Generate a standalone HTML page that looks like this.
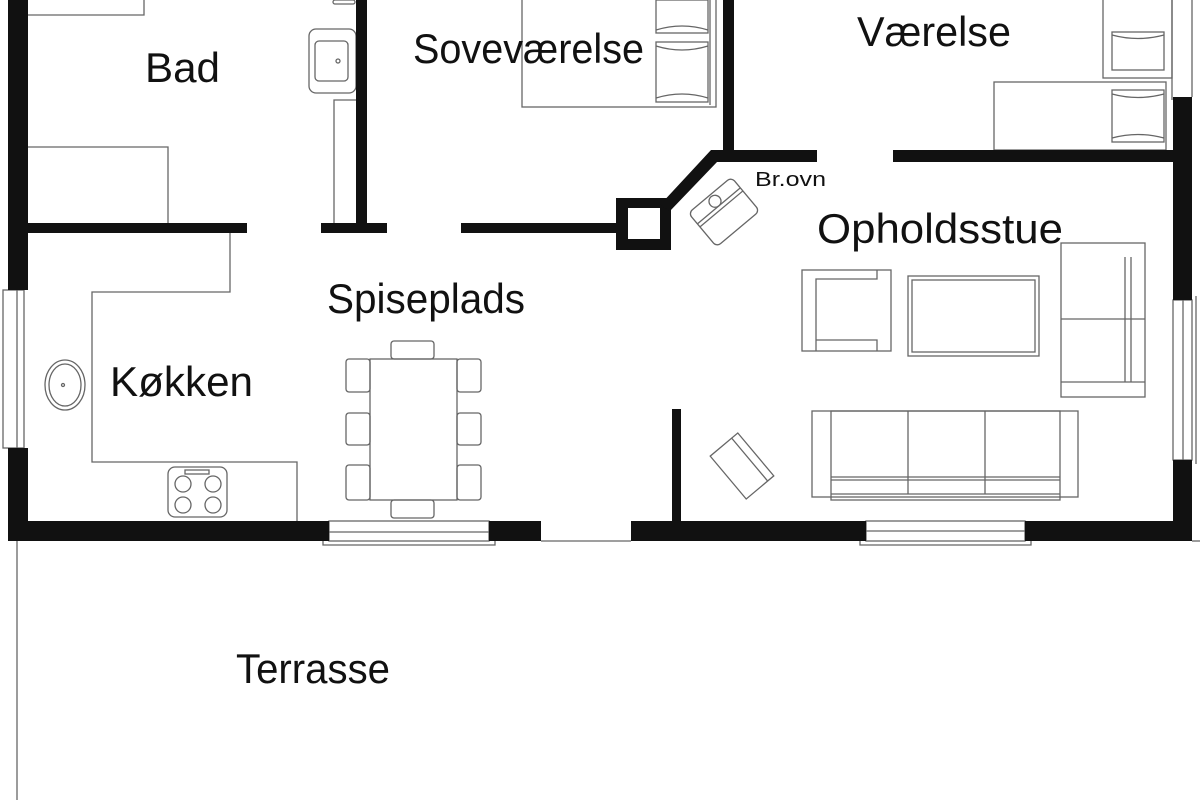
<!DOCTYPE html>
<html><head><meta charset="utf-8"><style>html,body{margin:0;padding:0;background:#fff}svg{display:block}</style></head>
<body>
<svg width="1200" height="800" viewBox="0 0 1200 800" xmlns="http://www.w3.org/2000/svg" font-family="Liberation Sans, sans-serif">
<rect width="1200" height="800" fill="#fff"/>
<g fill="none" stroke="#666" stroke-width="1.3">
<polyline points="28,15 144,15 144,0"/>
<polyline points="28,147 168,147 168,223"/>
<rect x="309" y="29" width="47" height="64" rx="7"/>
<rect x="315" y="41" width="33" height="40" rx="4"/>
<circle cx="338" cy="61" r="2"/>
<polyline points="356,100 334,100 334,223"/>
<rect x="333" y="0" width="22" height="4" rx="2"/>
<rect x="522" y="-2" width="194" height="109"/>
<line x1="710" y1="0" x2="710" y2="105"/>
<rect x="656" y="0" width="52" height="33"/>
<rect x="656" y="42" width="52" height="60"/>
<path d="M656,30 Q682,22 708,30 M656,46 Q682,54 708,46 M656,98 Q682,90 708,98"/>
<rect x="994" y="82" width="172" height="68"/>
<rect x="1103" y="-2" width="69" height="80"/>
<rect x="1112" y="32" width="52" height="38"/>
<rect x="1112" y="90" width="52" height="52"/>
<path d="M1112,35 Q1138,42 1164,35 M1112,94 Q1138,101 1164,94 M1112,138 Q1138,131 1164,138"/>
<line x1="1172" y1="0" x2="1172" y2="100"/>
<line x1="1192" y1="0" x2="1192" y2="97"/>
<polyline points="230,233 230,292 92,292 92,462 297,462 297,521"/>
<ellipse cx="65" cy="385" rx="20" ry="25"/>
<ellipse cx="65" cy="385" rx="16" ry="21"/>
<circle cx="63" cy="385" r="1.5"/>
<rect x="168" y="467" width="59" height="50" rx="7"/>
<circle cx="183" cy="484" r="8"/><circle cx="213" cy="484" r="8"/>
<circle cx="183" cy="505" r="8"/><circle cx="213" cy="505" r="8"/>
<rect x="185" y="470" width="24" height="4"/>
<rect x="370" y="359" width="87" height="141"/>
<rect x="346" y="359" width="24" height="33" rx="3"/>
<rect x="346" y="413" width="24" height="32" rx="3"/>
<rect x="346" y="465" width="24" height="35" rx="3"/>
<rect x="457" y="359" width="24" height="33" rx="3"/>
<rect x="457" y="413" width="24" height="32" rx="3"/>
<rect x="457" y="465" width="24" height="35" rx="3"/>
<rect x="391" y="341" width="43" height="18" rx="3"/>
<rect x="391" y="500" width="43" height="18" rx="3"/>
<g transform="translate(724,212) rotate(-40)">
<rect x="-28" y="-22" width="56" height="44" rx="5"/>
<line x1="-28" y1="-8" x2="28" y2="-8"/><line x1="-28" y1="-4" x2="28" y2="-4"/>
<circle cx="0" cy="-14" r="6"/>
</g>
<rect x="802" y="270" width="89" height="81"/>
<polyline points="877,270 877,279 816,279 816,351"/>
<polyline points="877,351 877,340 816,340"/>
<rect x="908" y="276" width="131" height="80"/>
<rect x="912" y="280" width="123" height="72"/>
<rect x="1061" y="243" width="84" height="154"/>
<line x1="1061" y1="319" x2="1145" y2="319"/>
<line x1="1061" y1="382" x2="1145" y2="382"/>
<line x1="1125" y1="257" x2="1125" y2="382"/>
<line x1="1131" y1="257" x2="1131" y2="382"/>
<rect x="812" y="411" width="266" height="86"/>
<rect x="831" y="411" width="229" height="89"/>
<line x1="908" y1="411" x2="908" y2="494"/>
<line x1="985" y1="411" x2="985" y2="494"/>
<line x1="831" y1="477" x2="1060" y2="477"/>
<line x1="831" y1="480" x2="1060" y2="480"/>
<line x1="831" y1="494" x2="1060" y2="494"/>
<g transform="translate(742,466) rotate(50)">
<rect x="-28" y="-18" width="56" height="36"/>
<line x1="-28" y1="-10" x2="28" y2="-10"/>
</g>
<rect x="3" y="290" width="21" height="158"/>
<line x1="17" y1="290" x2="17" y2="448"/>
<rect x="329" y="521" width="160" height="20"/>
<line x1="329" y1="532" x2="489" y2="532"/>
<polyline points="323,541 323,545 495,545 495,541"/>
<rect x="866" y="521" width="159" height="20"/>
<line x1="866" y1="531" x2="1025" y2="531"/>
<polyline points="860,541 860,545 1031,545 1031,541"/>
<rect x="1173" y="300" width="19" height="160"/>
<line x1="1183" y1="300" x2="1183" y2="460"/>
<line x1="1196" y1="296" x2="1196" y2="464"/>
<line x1="17" y1="541" x2="17" y2="800"/>
<line x1="541" y1="541" x2="631" y2="541"/>
<line x1="1192" y1="541" x2="1200" y2="541"/>
</g>
<g fill="#111">
<rect x="8" y="0" width="20" height="290"/>
<rect x="8" y="448" width="20" height="93"/>
<rect x="8" y="521" width="321" height="20"/>
<rect x="489" y="521" width="52" height="20"/>
<rect x="28" y="223" width="219" height="10"/>
<rect x="356" y="0" width="11" height="228"/>
<rect x="321" y="223" width="66" height="10"/>
<rect x="461" y="223" width="160" height="10"/>
<path d="M616,198 H671 V250 H616 Z M628,208 V239 H660 V208 Z" fill-rule="evenodd"/>
<polygon points="660,205 711,150 734,150 734,162 717,162 670,211"/>
<rect x="723" y="0" width="11" height="162"/>
<rect x="723" y="150" width="94" height="12"/>
<rect x="893" y="150" width="298" height="12"/>
<rect x="1173" y="97" width="19" height="203"/>
<rect x="1173" y="460" width="19" height="81"/>
<rect x="631" y="521" width="235" height="20"/>
<rect x="1025" y="521" width="167" height="20"/>
<rect x="672" y="409" width="9" height="115"/>
</g>
<g fill="#111" font-size="42">
<text x="145" y="82" textLength="75" lengthAdjust="spacingAndGlyphs">Bad</text>
<text x="413" y="63" textLength="231" lengthAdjust="spacingAndGlyphs">Soveværelse</text>
<text x="857" y="46" textLength="154" lengthAdjust="spacingAndGlyphs">Værelse</text>
<text x="817" y="243" textLength="246" lengthAdjust="spacingAndGlyphs">Opholdsstue</text>
<text x="327" y="313" textLength="198" lengthAdjust="spacingAndGlyphs">Spiseplads</text>
<text x="110" y="396" textLength="143" lengthAdjust="spacingAndGlyphs">Køkken</text>
<text x="236" y="683" textLength="154" lengthAdjust="spacingAndGlyphs">Terrasse</text>
<text x="755" y="186" font-size="20" textLength="71" lengthAdjust="spacingAndGlyphs">Br.ovn</text>
</g>
</svg>
</body></html>
